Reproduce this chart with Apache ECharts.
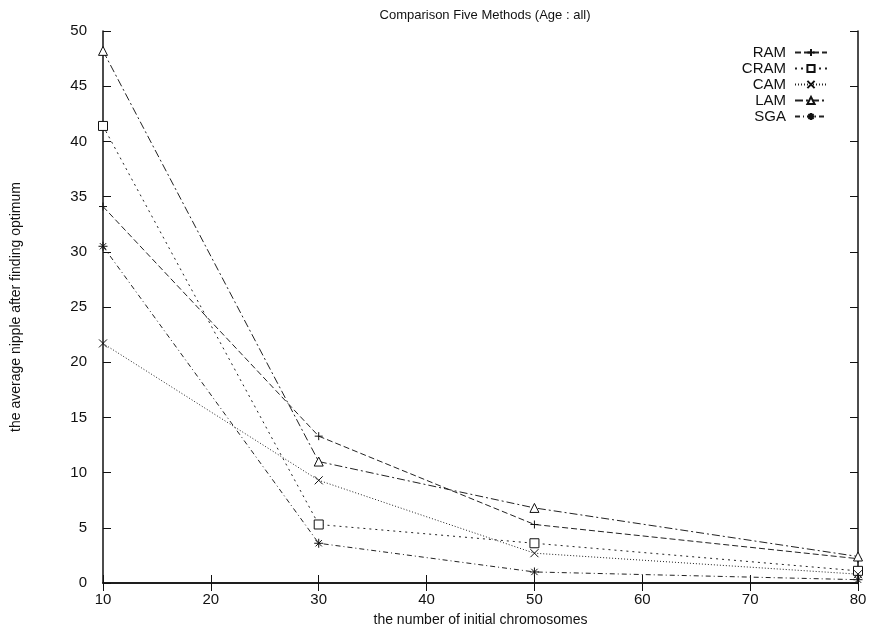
<!DOCTYPE html>
<html>
<head>
<meta charset="utf-8">
<script src="https://cdn.jsdelivr.net/npm/echarts@6/dist/echarts.min.js"></script>
<style>
  html, body { margin: 0; padding: 0; background: #fff; }
  #chart { width: 885px; height: 632px; }
</style>
</head>
<body>
<div id="chart"></div>
<script>
// initial chromosomes on x
var chromosomes = [10, 30, 50, 80];
var ram  = [34.1, 13.3, 5.3, 2.2];
var cram = [41.4, 5.3, 3.6, 1.1];
var cam  = [21.7, 9.3, 2.7, 0.8];
var lam  = [48.2, 11.0, 6.8, 2.4];
var sga  = [30.5, 3.6, 1.0, 0.3];

var font = "'Liberation Sans', Arial, sans-serif";

function pairs(vals) {
  return chromosomes.map(function (x, i) { return [x, vals[i]]; });
}

function makeSeries(name, vals, symbol, size, dash) {
  return {
    name: name,
    type: "line",
    data: pairs(vals),
    symbol: symbol,
    symbolSize: size,
    showAllSymbol: true,
    lineStyle: { color: "#222", width: 1, type: dash },
    itemStyle: { color: "#fff", borderColor: "#111", borderWidth: 1 },
    emphasis: { disabled: true },
    z: 3
  };
}

var plusPath = "path://M5,0L5,10M0,5L10,5";
var crossPath = "path://M0,0L10,10M10,0L0,10";
var starPath = "path://M5,0L5,10M0,5L10,5M1.5,1.5L8.5,8.5M8.5,1.5L1.5,8.5";

var chart = echarts.init(document.getElementById("chart"));
var option = {
  animation: false,
  backgroundColor: "#fff",
  title: {
    text: "Comparison Five Methods (Age : all)",
    left: 480,
    textAlign: "center",
    top: 4,
    textStyle: { fontFamily: font, fontSize: 13, fontWeight: "normal", color: "#111" }
  },
  legend: {
    orient: "vertical",
    right: 52,
    top: 40,
    align: "right",
    itemGap: 1,
    itemWidth: 32,
    itemHeight: 9,
    textStyle: { fontFamily: font, fontSize: 15, color: "#111", padding: [0, 4, 0, 0] },
    data: ["RAM", "CRAM", "CAM", "LAM", "SGA"]
  },
  grid: { left: 103, right: 27, top: 31, bottom: 49 },
  xAxis: [{
    type: "value",
    min: 10, max: 80, interval: 10,
    name: "the number of initial chromosomes",
    nameLocation: "middle",
    nameGap: 30,
    nameTextStyle: { fontFamily: font, fontSize: 14, color: "#111" },
    axisLine: { show: true, lineStyle: { color: "#111", width: 1.5 } },
    axisTick: { inside: true, length: 8, lineStyle: { color: "#111" } },
    axisLabel: { fontFamily: font, fontSize: 15, color: "#111", margin: 9 },
    splitLine: { show: false }
  }, {
    type: "value",
    position: "top",
    min: 10, max: 80, interval: 10,
    axisLine: { show: true, lineStyle: { color: "#111", width: 1.5 } },
    axisTick: { inside: true, length: 8, lineStyle: { color: "#111" } },
    axisLabel: { show: false },
    splitLine: { show: false }
  }],
  yAxis: [{
    type: "value",
    min: 0, max: 50, interval: 5,
    name: "the average nipple after finding optimum",
    nameLocation: "middle",
    nameGap: 80,
    nameTextStyle: { fontFamily: font, fontSize: 14, color: "#111" },
    axisLine: { show: true, lineStyle: { color: "#111", width: 1.5 } },
    axisTick: { inside: true, length: 8, lineStyle: { color: "#111" } },
    axisLabel: { fontFamily: font, fontSize: 15, color: "#111", margin: 16 },
    splitLine: { show: false }
  }, {
    type: "value",
    position: "right",
    min: 0, max: 50, interval: 5,
    axisLine: { show: true, lineStyle: { color: "#111", width: 1.5 } },
    axisTick: { inside: true, length: 8, lineStyle: { color: "#111" } },
    axisLabel: { show: false },
    splitLine: { show: false }
  }],
  series: [
    makeSeries("RAM", ram, plusPath, 8, [6, 3]),
    makeSeries("CRAM", cram, "rect", 9, [2, 4]),
    makeSeries("CAM", cam, crossPath, 8, [1, 2]),
    makeSeries("LAM", lam, "triangle", 9, [8, 3, 2, 3]),
    makeSeries("SGA", sga, starPath, 9, [5, 3, 1, 3])
  ]
};
chart.setOption(option);
</script>
</body>
</html>
